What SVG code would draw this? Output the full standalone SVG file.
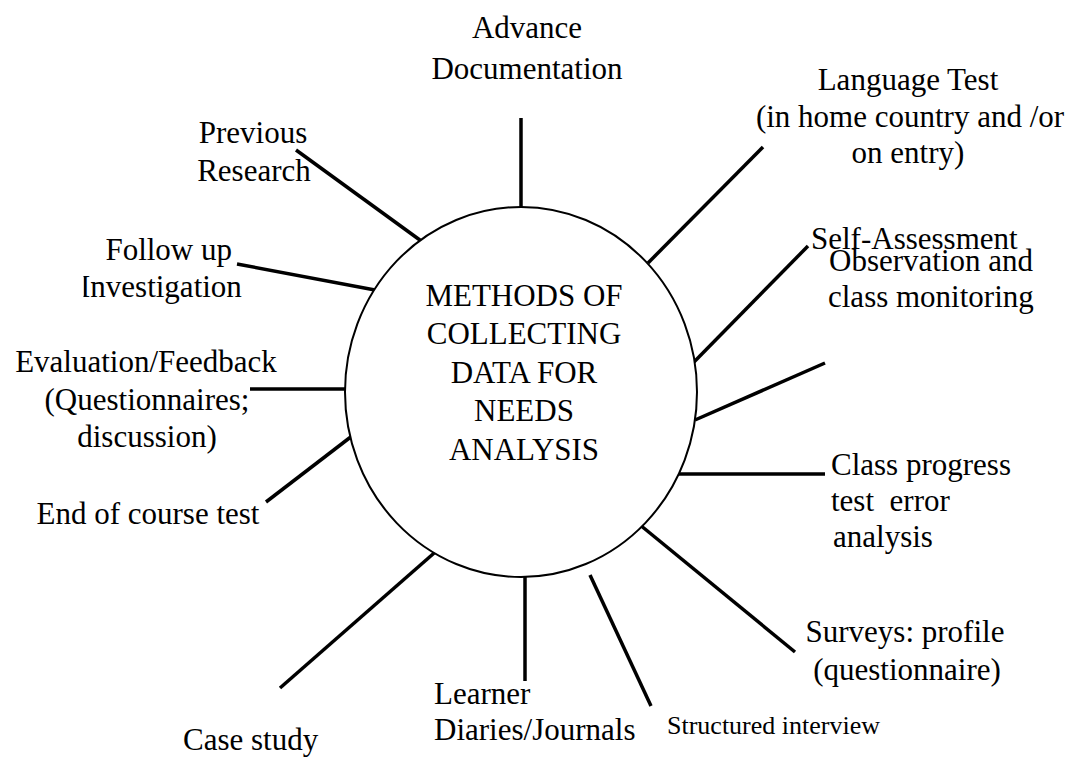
<svg xmlns="http://www.w3.org/2000/svg" width="1076" height="758" viewBox="0 0 1076 758">
  <style>
    .t { font-family: "Liberation Serif", "Times New Roman", serif; font-size: 31px; fill: #000; }
    .c { text-anchor: middle; }
    .sm { font-size: 26px; }
    .spoke { stroke: #000; stroke-width: 3.5; stroke-linecap: butt; fill: none; }
    .hub { stroke: #000; stroke-width: 2; fill: #fff; }
  </style>
  <defs>
    <!-- text box edge that trims the left side of the first letter -->
    <clipPath id="followBox">
      <rect x="83.5" y="200" width="200" height="120"/>
    </clipPath>
  </defs>
  <rect width="1076" height="758" fill="#fff"/>

  <!-- spokes radiating from the central circle -->
  <g id="connectors">
    <line class="spoke" x1="521" y1="118" x2="521" y2="207"/>
    <line class="spoke" x1="763" y1="147" x2="648" y2="263"/>
    <line class="spoke" x1="808" y1="246" x2="694" y2="362"/>
    <line class="spoke" x1="825" y1="363" x2="695" y2="420"/>
    <line class="spoke" x1="672" y1="474" x2="825" y2="474"/>
    <line class="spoke" x1="634" y1="520" x2="795" y2="652"/>
    <line class="spoke" x1="590" y1="575" x2="651" y2="706"/>
    <line class="spoke" x1="525" y1="577" x2="525" y2="681"/>
    <line class="spoke" x1="441" y1="547" x2="280" y2="688"/>
    <line class="spoke" x1="352" y1="436" x2="266" y2="502"/>
    <line class="spoke" x1="250" y1="389" x2="347" y2="389"/>
    <line class="spoke" x1="237" y1="264" x2="375" y2="290"/>
    <line class="spoke" x1="296" y1="150" x2="424" y2="243"/>
  </g>

  <g id="hub">
    <ellipse class="hub" cx="521" cy="392" rx="176" ry="185"/>
    <text class="t c" x="524" y="306">METHODS OF</text>
    <text class="t c" x="524" y="344">COLLECTING</text>
    <text class="t c" x="524" y="383">DATA FOR</text>
    <text class="t c" x="524" y="421">NEEDS</text>
    <text class="t c" x="524" y="460">ANALYSIS</text>
  </g>

  <g id="advance-documentation">
    <text class="t c" x="527" y="38">Advance</text>
    <text class="t c" x="527" y="79">Documentation</text>
  </g>

  <g id="language-test">
    <text class="t c" x="908" y="90">Language Test</text>
    <text class="t c" x="910" y="127">(in home country and /or</text>
    <text class="t c" x="908" y="163">on entry)</text>
  </g>

  <g id="self-assessment">
    <text class="t" x="811" y="249">Self-Assessment</text>
  </g>

  <g id="observation">
    <text class="t" x="829" y="271">Observation and</text>
    <text class="t" x="828" y="307">class monitoring</text>
  </g>

  <g id="class-progress">
    <text class="t" x="831" y="475">Class progress</text>
    <text class="t" x="831" y="511" xml:space="preserve">test  error</text>
    <text class="t" x="833" y="547">analysis</text>
  </g>

  <g id="surveys">
    <text class="t c" x="905" y="642">Surveys: profile</text>
    <text class="t c" x="907" y="680">(questionnaire)</text>
  </g>

  <g id="structured-interview">
    <text class="t sm" x="667" y="734">Structured interview</text>
  </g>

  <g id="learner-diaries">
    <text class="t" x="434" y="704">Learner</text>
    <text class="t" x="434" y="740">Diaries/Journals</text>
  </g>

  <g id="case-study">
    <text class="t" x="183" y="750">Case study</text>
  </g>

  <g id="end-of-course-test">
    <text class="t c" x="148" y="524">End of course test</text>
  </g>

  <g id="evaluation-feedback">
    <text class="t c" x="146" y="372">Evaluation/Feedback</text>
    <text class="t c" x="147" y="410">(Questionnaires;</text>
    <text class="t c" x="147" y="447">discussion)</text>
  </g>

  <g id="follow-up">
    <text class="t" x="232" y="260" text-anchor="end">Follow up</text>
    <text class="t" x="80" y="297" clip-path="url(#followBox)">Investigation</text>
  </g>

  <g id="previous-research">
    <text class="t c" x="253" y="143">Previous</text>
    <text class="t c" x="254" y="181">Research</text>
  </g>
</svg>
